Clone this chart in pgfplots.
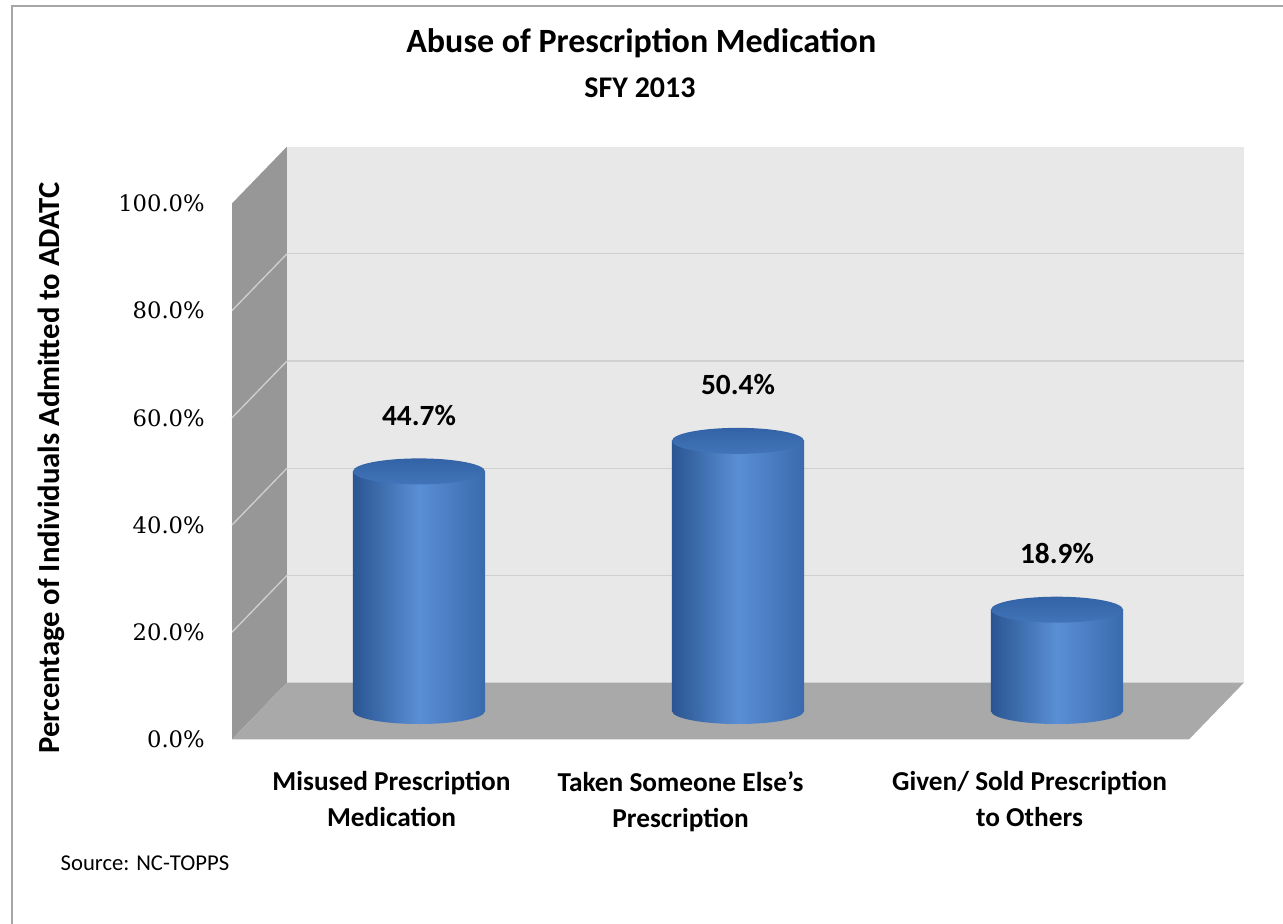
\documentclass[border=0pt]{standalone}
\usepackage{pgfplots}
\pgfplotsset{compat=1.18}
\usepackage{pgfplotstable}
\usepackage{fontspec}
\setmainfont{Carlito}
\newfontfamily\tickfont{DejaVu Serif}
\usetikzlibrary{shapes.geometric}
\definecolor{backwall}{HTML}{E8E8E8}
\definecolor{leftwall}{HTML}{979797}
\definecolor{floorc}{HTML}{A9A9A9}
\definecolor{gridc}{HTML}{D0D0D0}
\definecolor{gridl}{HTML}{CFCFCF}
\definecolor{cylL}{HTML}{2A5592}
\definecolor{cylM}{HTML}{5A8FD5}
\definecolor{cylR}{HTML}{3A6AAE}
\definecolor{topA}{HTML}{3363A6}
\definecolor{topB}{HTML}{4274B9}
\definecolor{borderc}{HTML}{A6A6A6}
\tikzset{cylcap/.style={ellipse, minimum width=99pt, minimum height=19.5pt, inner sep=0pt, anchor=center, draw=none}}

\pgfplotstableread{
x y
0 44.7
1 50.4
2 18.9
}\datatable

\begin{document}
\begin{tikzpicture}
\path[use as bounding box] (0,0) rectangle (962.25pt,-693pt);
\draw[borderc, line width=1.5pt] (9pt,-693pt) -- (9pt,-4.5pt) -- (962.25pt,-4.5pt);
\node[anchor=base, font=\bfseries\fontsize{25.5}{25.5}\selectfont] at (481pt,-39.5pt) {Abuse of Prescription Medication};
\node[anchor=base, font=\bfseries\fontsize{22.5}{22.5}\selectfont] at (480pt,-73.5pt) {SFY 2013};
\node[rotate=90, font=\bfseries\fontsize{23}{23}\selectfont] at (38.5pt,-351pt) {Percentage of Individuals Admitted to ADATC};
\node[anchor=base west, font=\fontsize{17}{17}\selectfont] at (42pt,-652.5pt) {Source: NC-TOPPS};
\begin{axis}[
  at={(194.625pt,-533.25pt)}, anchor=south west,
  scale only axis, width=717.75pt, height=402pt,
  xmin=-0.5, xmax=2.5, ymin=0, ymax=100,
  clip=false,
  axis line style={draw=none},
  tick style={draw=none},
  major tick length=0pt,
  xtick={0,0.906,2},
  xticklabels={{Misused Prescription\\Medication},{Taken Someone Else's\\Prescription},{Given/ Sold Prescription\\to Others}},
  xticklabel style={align=center, anchor=north, inner sep=0pt, xshift=-20.6pt, yshift=-45pt, font=\bfseries\fontsize{20.5}{27}\selectfont},
  ytick={0,20,40,60,80,100},
  yticklabel={\pgfmathprintnumber[fixed,fixed zerofill,precision=1]{\tick}\%},
  /pgf/number format/assume math mode=true,
  yticklabel style={anchor=east, inner sep=0pt, xshift=-40.9pt, yshift=-21.3pt, font=\tickfont\fontsize{17}{17}\selectfont},
]
% walls
\fill[leftwall] (axis cs:-0.5862,-5.3) -- (axis cs:-0.4138,5.3) -- (axis cs:-0.4138,105.3) -- (axis cs:-0.5862,94.7) -- cycle;
\fill[backwall] (axis cs:-0.4138,5.3) rectangle (axis cs:2.5862,105.3);
\draw[gridc, line width=1pt] (axis cs:-0.4138,25.3) -- (axis cs:2.5862,25.3);
\draw[gridc, line width=1pt] (axis cs:-0.4138,45.3) -- (axis cs:2.5862,45.3);
\draw[gridc, line width=1pt] (axis cs:-0.4138,65.3) -- (axis cs:2.5862,65.3);
\draw[gridc, line width=1pt] (axis cs:-0.4138,85.3) -- (axis cs:2.5862,85.3);
\draw[gridl, line width=1pt] (axis cs:-0.5862,14.7) -- (axis cs:-0.4138,25.3);
\draw[gridl, line width=1pt] (axis cs:-0.5862,34.7) -- (axis cs:-0.4138,45.3);
\draw[gridl, line width=1pt] (axis cs:-0.5862,54.7) -- (axis cs:-0.4138,65.3);
\draw[gridl, line width=1pt] (axis cs:-0.5862,74.7) -- (axis cs:-0.4138,85.3);
\fill[floorc] (axis cs:-0.5862,-5.3) -- (axis cs:2.4138,-5.3) -- (axis cs:2.5862,5.3) -- (axis cs:-0.4138,5.3) -- cycle;
% cylinders
\pgfplotsinvokeforeach{{-0.2:0.2},{0.8:1.2},{1.8:2.2}}{
  \addplot[draw=none, mark=none, restrict x to domain=#1, nodes near coords={},
    every node near coord/.style={cylcap, left color=cylL, right color=cylR, middle color=cylM}]
    table[x=x, y expr=0] {\datatable};
  \addplot[ybar, bar shift=0pt, bar width=0.414, draw=none, restrict x to domain=#1,
    left color=cylL, right color=cylR, middle color=cylM]
    table[x=x, y=y] {\datatable};
  \addplot[draw=none, mark=none, restrict x to domain=#1, nodes near coords={},
    every node near coord/.style={cylcap, top color=topA, bottom color=topB}]
    table[x=x, y=y] {\datatable};
}
% value labels
\addplot[draw=none, mark=none, point meta=y,
  nodes near coords={\pgfmathprintnumber[fixed,fixed zerofill,precision=1]{\pgfplotspointmeta}\%},
  every node near coord/.style={anchor=center, yshift=42pt, font=\bfseries\fontsize{22}{22}\selectfont, text=black}]
  table[x=x, y=y] {\datatable};
\end{axis}
\end{tikzpicture}
\end{document}
